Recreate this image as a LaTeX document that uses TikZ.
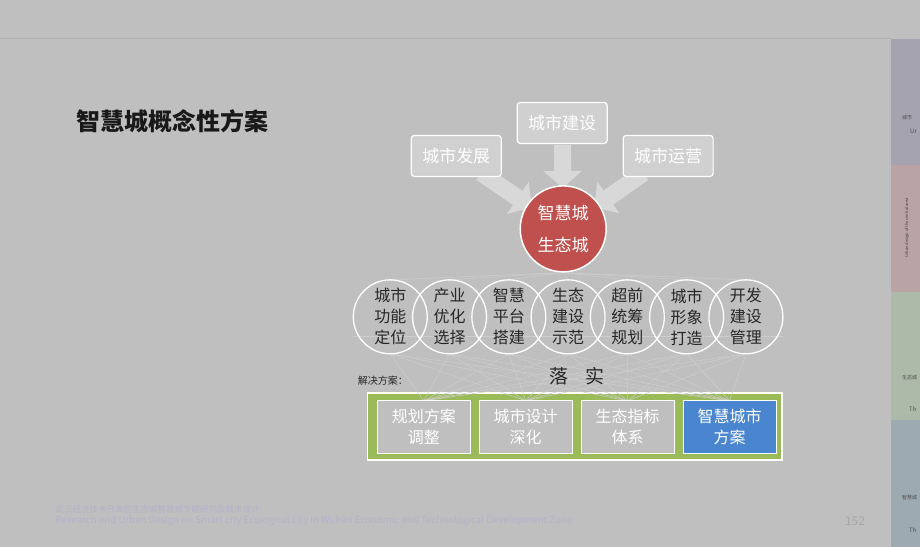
\documentclass[tikz,border=0pt]{standalone}
\usepackage{fontspec}
\setmainfont{Noto Sans CJK SC}
\usepackage{xcolor}
\usetikzlibrary{positioning,calc,arrows.meta,backgrounds}
\definecolor{slidegray}{HTML}{BFBFBF}
\definecolor{linegray}{HTML}{B0B0B0}
\definecolor{meshgray}{HTML}{CDCDCD}
\definecolor{boxgray}{HTML}{D0D0D0}
\definecolor{arrowgray}{HTML}{D8D8D8}
\definecolor{corered}{HTML}{C0504D}
\definecolor{framegreen}{HTML}{9BBB59}
\definecolor{planblue}{HTML}{4A86D0}
\definecolor{footlilac}{HTML}{B5B1C8}
\definecolor{tabpurple}{HTML}{A6A3B0}
\definecolor{tabpink}{HTML}{B9A3A5}
\definecolor{tabgreen}{HTML}{AEBAA9}
\definecolor{tabblue}{HTML}{9EAAB2}

\begin{document}
\begin{tikzpicture}[x=1pt, y=-1pt, node distance=10pt]
    \tikzstyle{topbox} = [rectangle, rounded corners=3pt, minimum width=90pt, minimum height=41pt, draw=white, line width=1.2pt, fill=boxgray, text=white, font=\fontsize{17}{20}\selectfont]
    \tikzstyle{core} = [circle, minimum size=86pt, draw=white, line width=1.5pt, fill=corered, text=white, align=center, font=\fontsize{17}{32}\selectfont]
    \tikzstyle{goal} = [circle, minimum size=74pt, inner sep=0pt, outer sep=0pt, draw=white, line width=1.3pt, text=black!85, align=center, font=\fontsize{16}{21}\selectfont]
    \tikzstyle{plan} = [rectangle, minimum width=93pt, minimum height=53pt, inner sep=0pt, outer sep=0pt, draw=white, line width=0.8pt, fill=slidegray, text=white, align=center, font=\fontsize{16}{21}\selectfont]
    \tikzstyle{bigarrow} = [line width=17pt, arrowgray, -{Triangle[length=17pt, width=38pt]}]
    \tikzstyle{mesh} = [meshgray, line width=0.5pt]
    \tikzstyle{tabtext} = [anchor=west, inner sep=0pt, text=black!70, font=\fontsize{5}{6}\selectfont]

    % title
    \node [font=\fontsize{24}{28}\selectfont\bfseries, text=black!90] (title) at (172,121) {智慧城概念性方案};

    % drivers and core
    \node [topbox] (jianshe) at (562,123) {城市建设};
    \node [topbox] (fazhan) at (456,156) {城市发展};
    \node [topbox] (yunying) at (668,156) {城市运营};
    \node [core] (core) at (563,229) {智慧城\\生态城};

    % seven circles
    \node [goal] (gna) at (390,317) {城市\\功能\\定位};
    \node [goal, right=-14.7pt of gna] (gnb) {产业\\优化\\选择};
    \node [goal, right=-14.7pt of gnb] (gnc) {智慧\\平台\\搭建};
    \node [goal, right=-14.7pt of gnc] (gnd) {生态\\建设\\示范};
    \node [goal, right=-14.7pt of gnd] (gne) {超前\\统筹\\规划};
    \node [goal, right=-14.7pt of gne] (gnf) {城市\\形象\\打造};
    \node [goal, right=-14.7pt of gnf] (gng) {开发\\建设\\管理};

    \node [font=\fontsize{10}{12}\selectfont, text=black!85, anchor=west] (jiejue) at (354,381) {解决方案：};
    \node [font=\fontsize{19}{22}\selectfont, text=black!85] (luoshi) at (577,376) {落\hspace{0.9em}实};

    % solution boxes
    \node [plan] (pla) at (423.5,427.5) {规划方案\\调整};
    \node [plan, right=9pt of pla] (plb) {城市设计\\深化};
    \node [plan, right=9pt of plb] (plc) {生态指标\\体系};
    \node [plan, right=9pt of plc, fill=planblue] (pld) {智慧城市\\方案};

    % slide, tabs, arrows, mesh and frame behind
    \begin{scope}[on background layer]
        \fill [slidegray] (0,0) rectangle (920,547);
        \draw [linegray, line width=1pt] (0,38.5) -- (891,38.5);
        \fill [tabpurple] (891,39) rectangle (920,165);
        \fill [tabpink] (891,165) rectangle (920,292);
        \fill [tabgreen] (891,292) rectangle (920,420);
        \fill [tabblue] (891,420) rectangle (920,547);
        \fill [framegreen, draw=white, line width=1.5pt] (367,393) rectangle (782,460);
        \foreach \g in {gna,gnb,gnc,gnd,gne,gnf,gng} {
            \draw [mesh] (core.south) -- (\g.north);
            \foreach \p in {pla,plb,plc,pld}
                \draw [mesh] (\g.south) -- (\p.north);
        }
        \draw [mesh] (gna.west |- 0,336) -- (gng.east |- 0,336);
        \draw [bigarrow, shorten <=22pt, shorten >=41pt] (jianshe.center) -- (core.center);
        \draw [bigarrow, shorten <=30pt, shorten >=38pt] (fazhan.center) -- (core.center);
        \draw [bigarrow, shorten <=30pt, shorten >=38pt] (yunying.center) -- (core.center);
    \end{scope}

    % side tab labels
    \node [tabtext] (tabone) at (902,118) {城市};
    \node [tabtext, font=\fontsize{6}{7}\selectfont] (tabtwo) at (910,131) {Ur};
    \node [rotate=90, inner sep=0pt, text=black!75, font=\fontsize{4}{5}\selectfont] (tabthree) at (907,228) {Urban design of the central area};
    \node [tabtext] (tabfour) at (902,378) {生态城};
    \node [tabtext, font=\fontsize{6}{7}\selectfont] (tabfive) at (909,409) {Th};
    \node [tabtext] (tabsix) at (902,498) {智慧城};
    \node [tabtext, font=\fontsize{6}{7}\selectfont] (tabseven) at (909,530) {Th};

    % footer
    \node [anchor=west, font=\fontsize{8.5}{10}\selectfont, text=footlilac, inner sep=0pt] (footcn) at (55,510) {武汉经济技术开发区生态城智慧城专题研究及城市设计};
    \node [anchor=west, font=\fontsize{9.7}{11}\selectfont, text=footlilac, inner sep=0pt] (footen) at (55,521) {Research and Urban Design on Smart city Ecological city in Wuhan Economic and Technological Development Zone};
    \node [font=\fontsize{12}{14}\selectfont, text=black!35] (page) at (855,521) {152};
\end{tikzpicture}
\end{document}
